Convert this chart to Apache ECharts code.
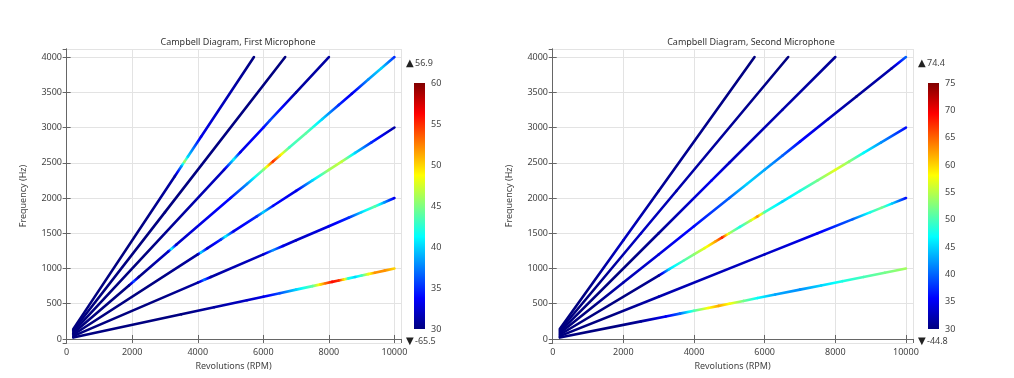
<!DOCTYPE html>
<html>
<head>
<meta charset="utf-8">
<script src="https://cdn.jsdelivr.net/npm/echarts@6/dist/echarts.min.js"></script>
<style>
  html, body { margin: 0; padding: 0; background: #fff; }
  #chart { width: 1014px; height: 378px; }
</style>
</head>
<body>
<div id="chart"></div>
<script>
// engine orders (per revolution)
const orders = [6, 12, 18, 24, 30, 36, 42]

// sound level (dB) along each order line, knots of [rpm, dB], first microphone
const mic1Order6 = [[200, 28], [3500, 30], [4500, 31], [5500, 32], [6000, 33], [6500, 36], [7000, 40], [7500, 44], [7750, 50], [7900, 53], [8100, 56], [8300, 55], [8450, 50], [8600, 42], [8800, 40], [9000, 43], [9200, 48], [9400, 52], [9700, 52], [10000, 50]]
const mic1Order12 = [[200, 28], [4000, 31], [4200, 37], [4400, 31], [6000, 32], [6300, 38], [6600, 33], [7000, 32], [8000, 33], [8600, 35], [9000, 40], [9400, 44], [9700, 38], [10000, 33]]
const mic1Order18 = [[200, 28], [4000, 31], [4100, 40], [4300, 32], [4700, 35], [4850, 41], [5100, 33], [5800, 35], [6000, 40], [6300, 34], [7000, 33], [7500, 40], [8000, 46], [8400, 47], [8800, 40], [9300, 35], [10000, 31]]
const mic1Order24 = [[200, 28], [1900, 30], [2050, 36], [2200, 30], [3100, 32], [3200, 41], [3350, 32], [5000, 34], [5500, 38], [6000, 45], [6300, 55], [6500, 50], [6800, 43], [7300, 44], [7800, 40], [8300, 35], [8700, 33], [9200, 38], [9600, 40], [10000, 35]]
const mic1Order30 = [[200, 28], [4800, 32], [5100, 41], [5300, 33], [6000, 34], [6200, 36], [7000, 31], [8000, 31]]
const mic1Order36 = [[200, 28], [3000, 30], [6667, 30]]
const mic1Order42 = [[200, 28], [3300, 31], [3500, 38], [3600, 46], [3700, 40], [4100, 33], [5714, 30]]

// same for the second microphone
const mic2Order6 = [[200, 28], [2500, 31], [3200, 35], [3600, 40], [4000, 50], [4400, 58], [4700, 62], [5000, 58], [5400, 52], [5800, 47], [6300, 43], [7000, 42], [7600, 45], [8200, 48], [8800, 50], [9400, 52], [10000, 54]]
const mic2Order12 = [[200, 28], [3000, 32], [6000, 33], [7500, 35], [8500, 40], [9000, 48], [9300, 52], [9600, 45], [10000, 36]]
const mic2Order18 = [[200, 28], [3000, 31], [3300, 45], [3700, 50], [4000, 53], [4300, 57], [4600, 62], [4800, 68], [5000, 55], [5300, 48], [5600, 55], [5800, 63], [6000, 50], [6500, 45], [7000, 48], [7500, 52], [8000, 57], [8400, 53], [8800, 47], [9300, 42], [10000, 36]]
const mic2Order24 = [[200, 28], [2000, 32], [3000, 34], [4000, 36], [5000, 40], [5500, 45], [6000, 43], [6500, 40], [7000, 36], [7800, 33], [8600, 31], [9600, 32], [10000, 40]]
const mic2Order30 = [[200, 28], [3000, 31], [4500, 35], [5000, 33], [6500, 32], [8000, 31]]
const mic2Order36 = [[200, 28], [2500, 33], [3500, 32], [6667, 30]]
const mic2Order42 = [[200, 28], [2000, 33], [3000, 31], [5714, 30]]

// colour range of each legend and the max / min of the data
const mic1Range = [30, 60]
const mic2Range = [30, 75]
const mic1MaxMin = ['56.9', '-65.5']
const mic2MaxMin = ['74.4', '-44.8']

const mic1Lines = [mic1Order6, mic1Order12, mic1Order18, mic1Order24, mic1Order30, mic1Order36, mic1Order42]
const mic2Lines = [mic2Order6, mic2Order12, mic2Order18, mic2Order24, mic2Order30, mic2Order36, mic2Order42]

const font = 'Noto Sans'
const textColor = '#444'

function jet(v, lo, hi) {
  let t = (v - lo) / (hi - lo)
  t = Math.max(0, Math.min(1, t))
  const c = function(x) { return Math.round(255 * Math.max(0, Math.min(1, x))) }
  const r = c(Math.min(4 * t - 1.5, -4 * t + 4.5))
  const g = c(Math.min(4 * t - 0.5, -4 * t + 3.5))
  const b = c(Math.min(4 * t + 0.5, -4 * t + 2.5))
  return 'rgb(' + r + ',' + g + ',' + b + ')'
}

// one data item per piece of line: rpm0, f0, rpm1, f1, dB0, dB1
function buildSegments(lines) {
  const out = []
  lines.forEach(function(knots, i) {
    const order = orders[i]
    for (let k = 0; k < knots.length - 1; k++) {
      const a = knots[k]
      const b = knots[k + 1]
      out.push([a[0], order * a[0] / 60, b[0], order * b[0] / 60, a[1], b[1]])
    }
  })
  return out
}

function lineSeries(lines, range, xi, yi) {
  return {
    type: 'custom',
    xAxisIndex: xi,
    yAxisIndex: yi,
    clip: true,
    encode: { x: [0, 2], y: [1, 3] },
    data: buildSegments(lines),
    renderItem: function(params, api) {
      const p0 = api.coord([api.value(0), api.value(1)])
      const p1 = api.coord([api.value(2), api.value(3)])
      const v0 = api.value(4)
      const v1 = api.value(5)
      const stops = []
      for (let s = 0; s <= 8; s++) {
        stops.push({ offset: s / 8, color: jet(v0 + (v1 - v0) * s / 8, range[0], range[1]) })
      }
      return {
        type: 'line',
        shape: { x1: p0[0], y1: p0[1], x2: p1[0], y2: p1[1] },
        style: {
          stroke: new echarts.graphic.LinearGradient(p0[0], p0[1], p1[0] + 0.01, p1[1] + 0.01, stops, true),
          lineWidth: 2.6,
          lineCap: 'round'
        }
      }
    }
  }
}

function colorBarSeries(range, xi, yi) {
  return {
    type: 'custom',
    xAxisIndex: xi,
    yAxisIndex: yi,
    data: [[0, range[0]]],
    renderItem: function(params, api) {
      const top = api.coord([0, range[1]])
      const bottom = api.coord([1, range[0]])
      const stops = []
      for (let s = 0; s <= 16; s++) {
        stops.push({ offset: s / 16, color: jet(range[1] - (range[1] - range[0]) * s / 16, range[0], range[1]) })
      }
      return {
        type: 'rect',
        shape: { x: top[0], y: top[1], width: bottom[0] - top[0], height: bottom[1] - top[1] },
        style: { fill: new echarts.graphic.LinearGradient(0, 0, 0, 1, stops) }
      }
    }
  }
}

const labelStyle = { color: textColor, fontSize: 9, fontFamily: font }
const frameLine = { show: true, lineStyle: { color: '#666', width: 1 } }
const gridLine = { show: true, lineStyle: { color: '#e3e3e3', width: 1 } }
const plain = function(v) { return String(v) }

function mainX(gridIndex, top) {
  return {
    type: 'value',
    gridIndex: gridIndex,
    position: top ? 'top' : 'bottom',
    min: -20,
    max: 10200,
    splitNumber: 5,
    name: top ? '' : 'Revolutions (RPM)',
    nameLocation: 'middle',
    nameGap: 16,
    nameTextStyle: labelStyle,
    axisLine: frameLine,
    axisTick: { show: true, inside: true, length: 4, lineStyle: { color: '#666' } },
    axisLabel: Object.assign({ show: !top, margin: 5, showMinLabel: false, showMaxLabel: false, formatter: plain }, labelStyle),
    splitLine: top ? { show: false } : gridLine
  }
}

function mainY(gridIndex, right) {
  return {
    type: 'value',
    gridIndex: gridIndex,
    position: right ? 'right' : 'left',
    min: -57,
    max: 4114,
    splitNumber: 8,
    name: right ? '' : 'Frequency (Hz)',
    nameLocation: 'middle',
    nameRotate: 90,
    nameGap: 38,
    nameTextStyle: labelStyle,
    axisLine: frameLine,
    axisTick: { show: true, inside: true, length: 4, lineStyle: { color: '#666' } },
    axisLabel: Object.assign({ show: !right, margin: 4, showMinLabel: false, showMaxLabel: false, formatter: plain }, labelStyle),
    splitLine: right ? { show: false } : gridLine
  }
}

function barX(gridIndex) {
  return { type: 'value', gridIndex: gridIndex, min: 0, max: 1, show: false }
}

function barY(gridIndex, range) {
  return {
    type: 'value',
    gridIndex: gridIndex,
    position: 'right',
    min: range[0],
    max: range[1],
    interval: 5,
    axisLine: { show: false },
    axisTick: { show: false },
    splitLine: { show: false },
    axisLabel: Object.assign({ margin: 6 }, labelStyle)
  }
}

function extremeText(x, y, mark, text) {
  return [
    { type: 'text', x: x, y: y, style: { text: mark, fill: '#222', font: '10px "DejaVu Sans"', textVerticalAlign: 'middle' } },
    { type: 'text', x: x + 9, y: y, style: { text: text, fill: textColor, font: '9px "' + font + '"', textVerticalAlign: 'middle' } }
  ]
}

const chart = echarts.init(document.getElementById('chart'), null, { renderer: 'canvas' })

chart.setOption({
  animation: false,
  backgroundColor: '#fff',
  title: [
    { text: 'Campbell Diagram, First Microphone', left: 233, top: 33, textAlign: 'center', textStyle: { color: '#333', fontSize: 9, fontWeight: 'normal', fontFamily: font } },
    { text: 'Campbell Diagram, Second Microphone', left: 746, top: 33, textAlign: 'center', textStyle: { color: '#333', fontSize: 9, fontWeight: 'normal', fontFamily: font } }
  ],
  grid: [
    { left: 66, top: 49, width: 335, height: 294 },
    { left: 414, top: 83, width: 11, height: 246 },
    { left: 552, top: 49, width: 361, height: 294 },
    { left: 928, top: 83, width: 11, height: 246 }
  ],
  xAxis: [mainX(0, false), mainX(0, true), barX(1), mainX(2, false), mainX(2, true), barX(3)],
  yAxis: [mainY(0, false), mainY(0, true), barY(1, mic1Range), mainY(2, false), mainY(2, true), barY(3, mic2Range)],
  series: [
    lineSeries(mic1Lines, mic1Range, 0, 0),
    colorBarSeries(mic1Range, 2, 2),
    lineSeries(mic2Lines, mic2Range, 3, 3),
    colorBarSeries(mic2Range, 5, 5)
  ],
  graphic: [].concat(
    extremeText(406, 63, '▲', mic1MaxMin[0]),
    extremeText(406, 341, '▼', mic1MaxMin[1]),
    extremeText(918, 63, '▲', mic2MaxMin[0]),
    extremeText(918, 341, '▼', mic2MaxMin[1])
  )
})
</script>
</body>
</html>
